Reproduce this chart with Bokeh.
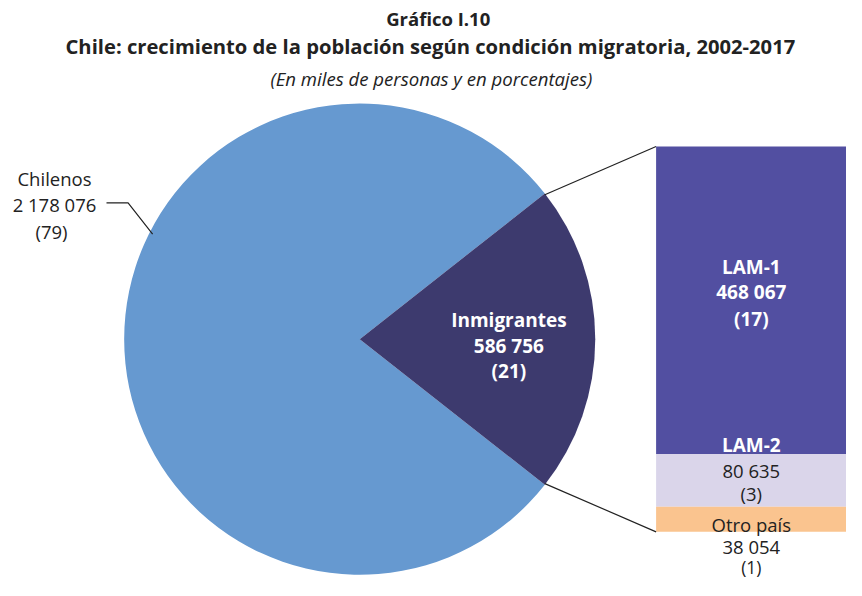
import math
from bokeh.plotting import figure
from bokeh.models import Range1d
from bokeh.core.properties import value
from bokeh.embed import file_html
from bokeh.resources import INLINE

# ---- data ----
pie_labels = ["Chilenos", "Inmigrantes"]
pie_values = [2178076, 586756]
pie_pcts = [79, 21]
bar_labels = ["LAM-1", "LAM-2", "Otro país"]
bar_values = [468067, 80635, 38054]
bar_pcts = [17, 3, 1]

FONT = "Open Sans"
W, H = 846, 580
p = figure(width=W, height=H, output_backend="svg", toolbar_location=None,
           x_range=Range1d(0, 862), y_range=Range1d(0, 596),
           min_border=0, outline_line_color=None)
p.axis.visible = False
p.grid.visible = False

def Y(y):  # reference pixel row -> data y
    return 596 - y

def fmt(v):
    return f"{v:,}".replace(",", " ")

# ---- pie ----
cx, cy, r = 366, Y(348), 240
total = sum(pie_values)
half = math.pi * pie_values[1] / total
p.wedge(x=[cx], y=[cy], radius=r, start_angle=[half], end_angle=[2 * math.pi - half],
        fill_color="#6699D0", line_color=None)
p.wedge(x=[cx], y=[cy], radius=r, start_angle=[-half], end_angle=[half],
        fill_color="#3D3A6E", line_color=None)

# ---- bar ----
bx0, bx1 = 668, 862
btop, bbot = Y(150), Y(546)
bh = btop - bbot
bar_colors = ["#524FA1", "#DAD5EA", "#FAC48F"]
tot_b = sum(bar_values)
tops, bots = [], []
cur = btop
for v in bar_values:
    h = bh * v / tot_b
    tops.append(cur)
    bots.append(cur - h)
    cur -= h
p.quad(left=bx0, right=bx1, top=tops, bottom=bots, fill_color=bar_colors, line_color=None)

# connector lines
ex, ey_top = cx + r * math.cos(half), cy + r * math.sin(half)
ey_bot = cy - r * math.sin(half)
p.line([ex, bx0], [ey_top, btop], line_color="#222222", line_width=1.2)
p.line([ex, bx0], [ey_bot, bbot], line_color="#222222", line_width=1.2)

# Chilenos leader
p.line([108, 130, 155], [Y(208), Y(208), Y(240)], line_color="#222222", line_width=1.2)

# ---- titles ----
def txt(x, y, s, size, color="#222222", style="normal", align="center"):
    p.text(x=[x], y=[Y(y)], text=[s], text_font=value(FONT), text_font_size=f"{size}px",
           text_font_style=style, text_color=color, text_align=align, text_baseline="middle")

txt(446, 18, "Gráfico I.10", 18.5, style="bold")
txt(438, 47, "Chile: crecimiento de la población según condición migratoria, 2002-2017", 20.2, style="bold")
txt(439, 80, "(En miles de personas y en porcentajes)", 18.6, style="italic")

# ---- labels ----
LS = 18.5
LB = 19
txt(55, 183, pie_labels[0], LS)
txt(55, 210, fmt(pie_values[0]), LS)
txt(52, 237, f"({pie_pcts[0]})", LS)

txt(518, 328, pie_labels[1], LB, color="white", style="bold")
txt(518, 355, fmt(pie_values[1]), LB, color="white", style="bold")
txt(518, 381, f"({pie_pcts[1]})", LB, color="white", style="bold")

bcx = 765
txt(bcx, 274, bar_labels[0], LB, color="white", style="bold")
txt(bcx, 300, fmt(bar_values[0]), LB, color="white", style="bold")
txt(bcx, 327, f"({bar_pcts[0]})", LB, color="white", style="bold")

txt(bcx, 457, bar_labels[1], LB, color="white", style="bold")
txt(bcx, 483, fmt(bar_values[1]), LS)
txt(bcx, 507, f"({bar_pcts[1]})", LS)

txt(bcx, 538, bar_labels[2], LS)
txt(bcx, 561, fmt(bar_values[2]), LS)
txt(bcx, 582, f"({bar_pcts[2]})", 17.5)

open("out.html", "w").write(file_html(p, INLINE))
